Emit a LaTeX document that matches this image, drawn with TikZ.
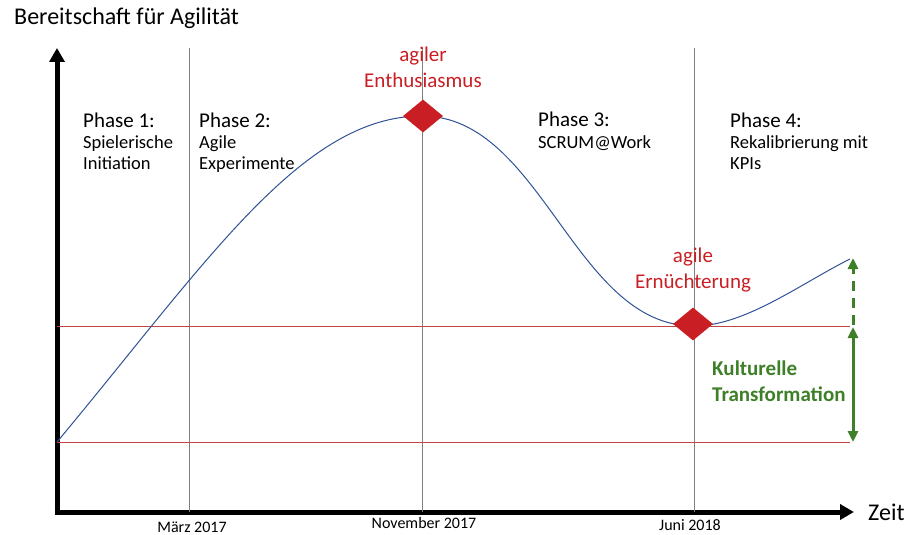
\documentclass[tikz,border=0pt]{standalone}
\usepackage{xcolor}
\usepackage{fontspec}
\setmainfont{Carlito}
\usetikzlibrary{arrows.meta, positioning, shapes.geometric}

\definecolor{hypeblue}{RGB}{47,82,150}
\definecolor{markred}{RGB}{200,30,36}
\definecolor{levelred}{RGB}{190,70,70}
\definecolor{transgreen}{RGB}{62,128,40}

\begin{document}
\begin{tikzpicture}[x=1pt, y=-1pt,
        axis/.style={line width=5pt, -{Triangle[width=15pt, length=14pt]}},
        period/.style={gray, line width=1pt},
        level/.style={levelred, line width=1pt},
        hype/.style={hypeblue, line width=1pt},
        milestone/.style={diamond, fill=markred, inner sep=0pt, minimum width=40pt, minimum height=33pt},
        marklabel/.style={text=markred, align=center, font=\fontsize{21}{26}\selectfont},
        phase/.style={anchor=base west, align=left, inner sep=0pt, font=\fontsize{18.5}{21}\selectfont},
        date/.style={anchor=base, font=\fontsize{16}{18}\selectfont},
        growth/.style={transgreen, line width=3pt, {Triangle[width=10pt, length=11pt]}-{Triangle[width=10pt, length=11pt]}}]
        \useasboundingbox (0,0) rectangle (914,535);

        % axes
        \coordinate (o) at (57,512);
        \coordinate (ytop) at (57,48);
        \coordinate (xend) at (854,512);
        \draw[axis] (57,514.5) -- (ytop);
        \draw[axis] (54.5,512) -- (xend);
        \node[anchor=west, inner sep=0pt, font=\fontsize{24}{28}\selectfont] (ylabel) at (14,18) {Bereitschaft für Agilität};
        \node[anchor=west, inner sep=0pt, font=\fontsize{24}{28}\selectfont] (xlabel) at (868,512) {Zeit};

        % period lines
        \foreach \x/\n in {189/mar, 422/nov, 694/jun} {
            \coordinate (\n top) at (\x,48);
            \coordinate (\n bot) at (\x,512);
            \draw[period] (\n top) -- (\n bot);
        }
        \node[date] (mar) at (192,532) {März 2017};
        \node[date] (nov) at (424,528) {November 2017};
        \node[date] (jun) at (690,530) {Juni 2018};

        % levels
        \coordinate (low1) at (57,442);
        \coordinate (low2) at (850,442);
        \coordinate (high1) at (57,326);
        \coordinate (high2) at (850,326);
        \draw[level] (low1) -- (low2);
        \draw[level] (high1) -- (high2);

        % curve
        \coordinate (peak) at (422,116);
        \coordinate (dip) at (694,326);
        \coordinate (end) at (850,259);
        \draw[hype] (low1) .. controls (207,262) and (302,116) .. (peak)
                           .. controls (542,116) and (574,326) .. (dip)
                           .. controls (745,326) and (800,284) .. (end);

        \node[milestone] (m1) at (423,116) {};
        \node[milestone] (m2) at (693,324) {};
        \node[marklabel, above=8pt of m1] (enth) {agiler\\Enthusiasmus};
        \node[marklabel, above=12pt of m2] (ern) {agile\\Ernüchterung};

        % phases
        \node[phase] (p1) at (83,169) {{\fontsize{21}{24}\selectfont Phase 1:}\\Spielerische\\Initiation};
        \node[phase] (p2) at (199,169) {{\fontsize{21}{24}\selectfont Phase 2:}\\Agile\\Experimente};
        \node[phase] (p3) at (538,148) {{\fontsize{21}{24}\selectfont Phase 3:}\\SCRUM@Work};
        \node[phase] (p4) at (730,169) {{\fontsize{21}{24}\selectfont Phase 4:}\\Rekalibrierung mit\\KPIs};

        % transformation
        \coordinate (g1) at (853,442);
        \coordinate (g2) at (853,327);
        \coordinate (g3) at (853,258);
        \draw[growth] (g1) -- (g2);
        \draw[transgreen, line width=3pt, dash pattern=on 10pt off 7pt, -{Triangle[width=10pt, length=11pt]}] (853,325) -- (g3);
        \node[anchor=base west, align=left, inner sep=0pt, text=transgreen, font=\bfseries\fontsize{21}{26}\selectfont] (kt) at (712,401) {Kulturelle\\Transformation};
    \end{tikzpicture}
\end{document}
